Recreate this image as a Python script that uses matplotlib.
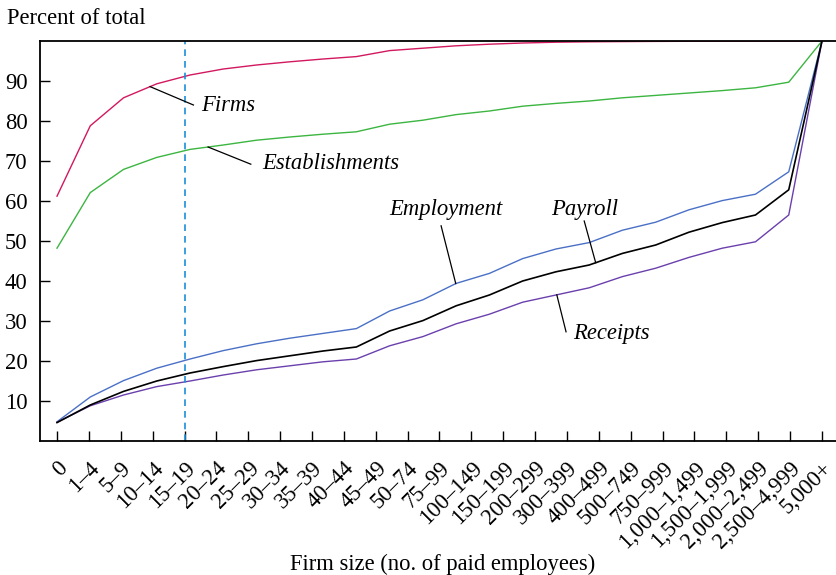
import numpy as np
import matplotlib
matplotlib.use("Agg")
import matplotlib.pyplot as plt

categories = ["0", "1–4", "5–9", "10–14", "15–19", "20–24", "25–29", "30–34",
              "35–39", "40–44", "45–49", "50–74", "75–99", "100–149", "150–199",
              "200–299", "300–399", "400–499", "500–749", "750–999",
              "1,000–1,499", "1,500–1,999", "2,000–2,499", "2,500–4,999", "5,000+"]

firms = [61.2, 78.8, 85.8, 89.3, 91.5, 93.0, 94.0, 94.8, 95.5, 96.1, 97.6, 98.2,
         98.8, 99.2, 99.5, 99.7, 99.8, 99.85, 99.9, 99.93, 99.95, 99.97, 99.98, 100]
establishments = [48.2, 62.1, 67.9, 70.9, 72.9, 74.0, 75.2, 76.0, 76.7, 77.3, 79.2,
                  80.2, 81.6, 82.5, 83.7, 84.4, 85.0, 85.8, 86.4, 87.0, 87.6, 88.3,
                  89.7, 100]
employment = [4.8, 11.0, 15.1, 18.2, 20.5, 22.6, 24.3, 25.7, 26.9, 28.1, 32.5, 35.3,
              39.4, 41.9, 45.6, 48.0, 49.6, 52.7, 54.7, 57.8, 60.1, 61.7, 67.3, 100]
payroll = [4.6, 9.0, 12.4, 15.0, 17.0, 18.6, 20.1, 21.3, 22.5, 23.5, 27.5, 30.1,
           33.8, 36.5, 40.0, 42.3, 44.0, 46.9, 49.0, 52.2, 54.6, 56.5, 62.8, 100]
receipts = [4.7, 8.8, 11.5, 13.6, 15.0, 16.5, 17.8, 18.8, 19.8, 20.5, 23.8, 26.1,
            29.3, 31.7, 34.7, 36.5, 38.3, 41.1, 43.2, 45.9, 48.2, 49.8, 56.5, 100]
yticks = [10, 20, 30, 40, 50, 60, 70, 80, 90]

plt.rcParams['font.family'] = ['Liberation Serif', 'DejaVu Serif']
FS = 16.3

W, H = 837, 575
fig = plt.figure(figsize=(W / 100, H / 100), dpi=100)
ax = fig.add_axes([40 / W, (H - 441) / H, (837 - 40) / W, (441 - 41) / H])

ntick = len(categories)
npts = len(firms)
xs = np.arange(npts) * (ntick - 1) / (npts - 1)

c_firm = "#d2185f"
c_est = "#3cb541"
c_emp = "#4a70c6"
c_pay = "#000000"
c_rec = "#6a40ad"

ax.plot(xs, firms, color=c_firm, lw=1.0)
ax.plot(xs, establishments, color=c_est, lw=1.0)
ax.plot(xs, employment, color=c_emp, lw=1.0)
ax.plot(xs, receipts, color=c_rec, lw=1.0)
ax.plot(xs, payroll, color=c_pay, lw=1.2)

ax.axvline(4, color="#1a8fd8", lw=1.2, ls=(0, (4, 3)))

x0 = -17 / 31.875
ax.set_xlim(x0, x0 + (837 - 40) / 31.875)
ax.set_ylim(0, 100)

ax.set_xticks(range(ntick))
ax.set_xticklabels(categories, rotation=45, ha='right', va='top',
                   rotation_mode='anchor', fontsize=FS)
ax.set_yticks(yticks)
ax.set_yticklabels([str(v) for v in yticks], fontsize=FS)
ax.tick_params(axis='x', direction='in', length=7, width=1, pad=12)
ax.tick_params(axis='y', direction='in', length=7, width=1, pad=9)
ax.spines['right'].set_visible(False)
for s in ['left', 'top', 'bottom']:
    ax.spines[s].set_linewidth(1.3)


def label(series, xline, xt, yt, text, tx, ty, ha='left'):
    yl = np.interp(xline, xs, series)
    ax.plot([xline, xt], [yl, yt], color='black', lw=0.9)
    ax.text(tx, ty, text, fontsize=FS, style='italic', ha=ha, va='center')


label(firms, 2.92, 4.28, 84.0, "Firms", 4.52, 83.9)
label(establishments, 4.74, 6.08, 69.2, "Establishments", 6.44, 69.3)
label(employment, 12.51, 12.05, 53.8, "Employment", 12.2, 58.0, ha='center')
label(payroll, 16.9, 16.54, 55.0, "Payroll", 16.55, 58.0, ha='center')
label(receipts, 15.68, 15.97, 27.3, "Receipts", 16.2, 27.0)

fig.text(7 / W, 1 - 19 / H, "Percent of total", fontsize=FS, ha='left', va='center')
fig.text(443 / W, 1 - 564 / H, "Firm size (no. of paid employees)", fontsize=FS,
         ha='center', va='center')

fig.savefig("out.png", dpi=100)
